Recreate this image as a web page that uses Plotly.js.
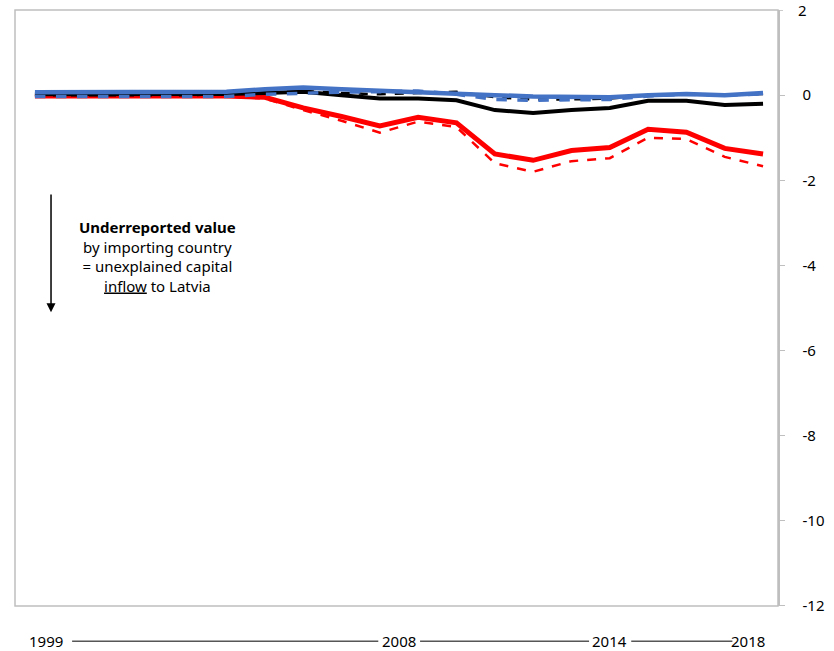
<!DOCTYPE html>
<html>
<head>
<script src="https://cdn.plot.ly/plotly-3.0.1.min.js"></script>
<style>body{margin:0;background:#fff}</style>
</head>
<body>
<div id="chart" style="width:834px;height:651px"></div>
<script>
var years = [1999,2000,2001,2002,2003,2004,2005,2006,2007,2008,2009,2010,2011,2012,2013,2014,2015,2016,2017,2018];
var redSolid  = [-0.02,-0.02,-0.02,-0.02,-0.02,-0.02,-0.05,-0.3,-0.5,-0.72,-0.52,-0.65,-1.38,-1.53,-1.3,-1.23,-0.8,-0.87,-1.25,-1.38];
var redDash   = [-0.02,-0.02,-0.02,-0.02,-0.02,-0.03,-0.08,-0.35,-0.6,-0.88,-0.62,-0.75,-1.6,-1.8,-1.55,-1.48,-1.0,-1.03,-1.45,-1.67];
var blackSolid= [0.02,0.02,0.02,0.02,0.02,0.03,0.05,0.08,0.0,-0.08,-0.08,-0.12,-0.35,-0.42,-0.35,-0.3,-0.13,-0.13,-0.23,-0.2];
var blackDash = [0.0,0.0,0.0,0.0,0.0,0.03,0.06,0.1,0.05,0.02,0.05,0.08,-0.05,-0.1,-0.1,-0.08,0.0,0.02,0.0,0.03];
var blueSolid = [0.07,0.07,0.06,0.06,0.07,0.08,0.14,0.18,0.14,0.1,0.07,0.03,0.0,-0.03,-0.05,-0.05,0.0,0.03,0.0,0.05];
var blueDash  = [-0.03,-0.03,-0.03,-0.03,-0.03,-0.03,0.02,0.05,0.07,0.08,0.1,0.02,-0.1,-0.12,-0.12,-0.1,-0.02,0.02,0.0,0.03];
var yTicks = [0,-2,-4,-6,-8,-10,-12];
var yTickText = ['0','-2','-4','-6','-8','-10','-12'];

function tr(y, color, width, dash) {
  return {x: years, y: y, type: 'scatter', mode: 'lines',
          line: {color: color, width: width, dash: dash}, hoverinfo: 'none'};
}
var data = [
  tr(redDash, '#ff0000', 2.5, 'dash'),
  tr(redSolid, '#ff0000', 5, 'solid'),
  tr(blackDash, '#000000', 2.5, 'dash'),
  tr(blackSolid, '#000000', 4, 'solid'),
  tr(blueDash, '#4472c4', 3.5, 'dash'),
  tr(blueSolid, '#4472c4', 4.5, 'solid')
];

var labY = -0.059;
var lab = function (x, t) {
  return {x: x, y: labY, xref: 'x', yref: 'paper', yanchor: 'middle', text: t, showarrow: false};
};
var layout = {
  width: 834, height: 651,
  margin: {l: 15, r: 56, t: 10, b: 45},
  showlegend: false,
  plot_bgcolor: '#fff', paper_bgcolor: '#fff',
  font: {family: 'Noto Sans, Open Sans, sans-serif', size: 15, color: '#000'},
  xaxis: {range: [1998.48, 2018.39], showticklabels: false, showgrid: false, zeroline: false, showline: false, fixedrange: true},
  yaxis: {range: [-12.001, 2.001], side: 'right', tickmode: 'array', tickvals: yTicks, ticktext: yTickText,
          showgrid: false, zeroline: false,
          showline: true, linecolor: '#bfbfbf', linewidth: 1.5, ticks: 'outside', ticklen: 5,
          tickcolor: '#bfbfbf', ticklabelstandoff: 15, tickfont: {size: 15}},
  shapes: [
    {type: 'rect', xref: 'paper', yref: 'paper', x0: 0, x1: 1, y0: 0, y1: 1, line: {color: '#bfbfbf', width: 1.5}},
    {type: 'line', xref: 'paper', yref: 'y', x0: 1, x1: 1.0066, y0: 2, y1: 2, line: {color: '#bfbfbf', width: 1.5}},
    {type: 'line', xref: 'x', yref: 'paper', x0: 1999.97, x1: 2007.96, y0: labY, y1: labY, line: {color: '#000', width: 1}},
    {type: 'line', xref: 'x', yref: 'paper', x0: 2009.05, x1: 2013.46, y0: labY, y1: labY, line: {color: '#000', width: 1}},
    {type: 'line', xref: 'x', yref: 'paper', x0: 2014.56, x1: 2017.2, y0: labY, y1: labY, line: {color: '#000', width: 1}}
  ],
  annotations: [
    {x: 1, y: 2, xref: 'paper', yref: 'y', xanchor: 'left', yanchor: 'middle', xshift: 18, text: '2', showarrow: false},
    lab(1999.3, '1999'), lab(2008.5, '2008'), lab(2014.0, '2014'), lab(2017.6, '2018'),
    {x: 2002.2, y: -3.8, xref: 'x', yref: 'y', showarrow: false, align: 'center',
     text: '<b>Underreported value</b><br>by importing country<br>= unexplained capital<br><u>inflow</u> to Latvia',
     font: {size: 15}},
    {x: 1999.42, y: -5.1, ax: 1999.42, ay: -2.3, xref: 'x', yref: 'y', axref: 'x', ayref: 'y',
     showarrow: true, arrowhead: 2, arrowsize: 1.2, arrowwidth: 1.5, arrowcolor: '#000', text: ''}
  ]
};
Plotly.newPlot('chart', data, layout, {staticPlot: true});
</script>
</body>
</html>
